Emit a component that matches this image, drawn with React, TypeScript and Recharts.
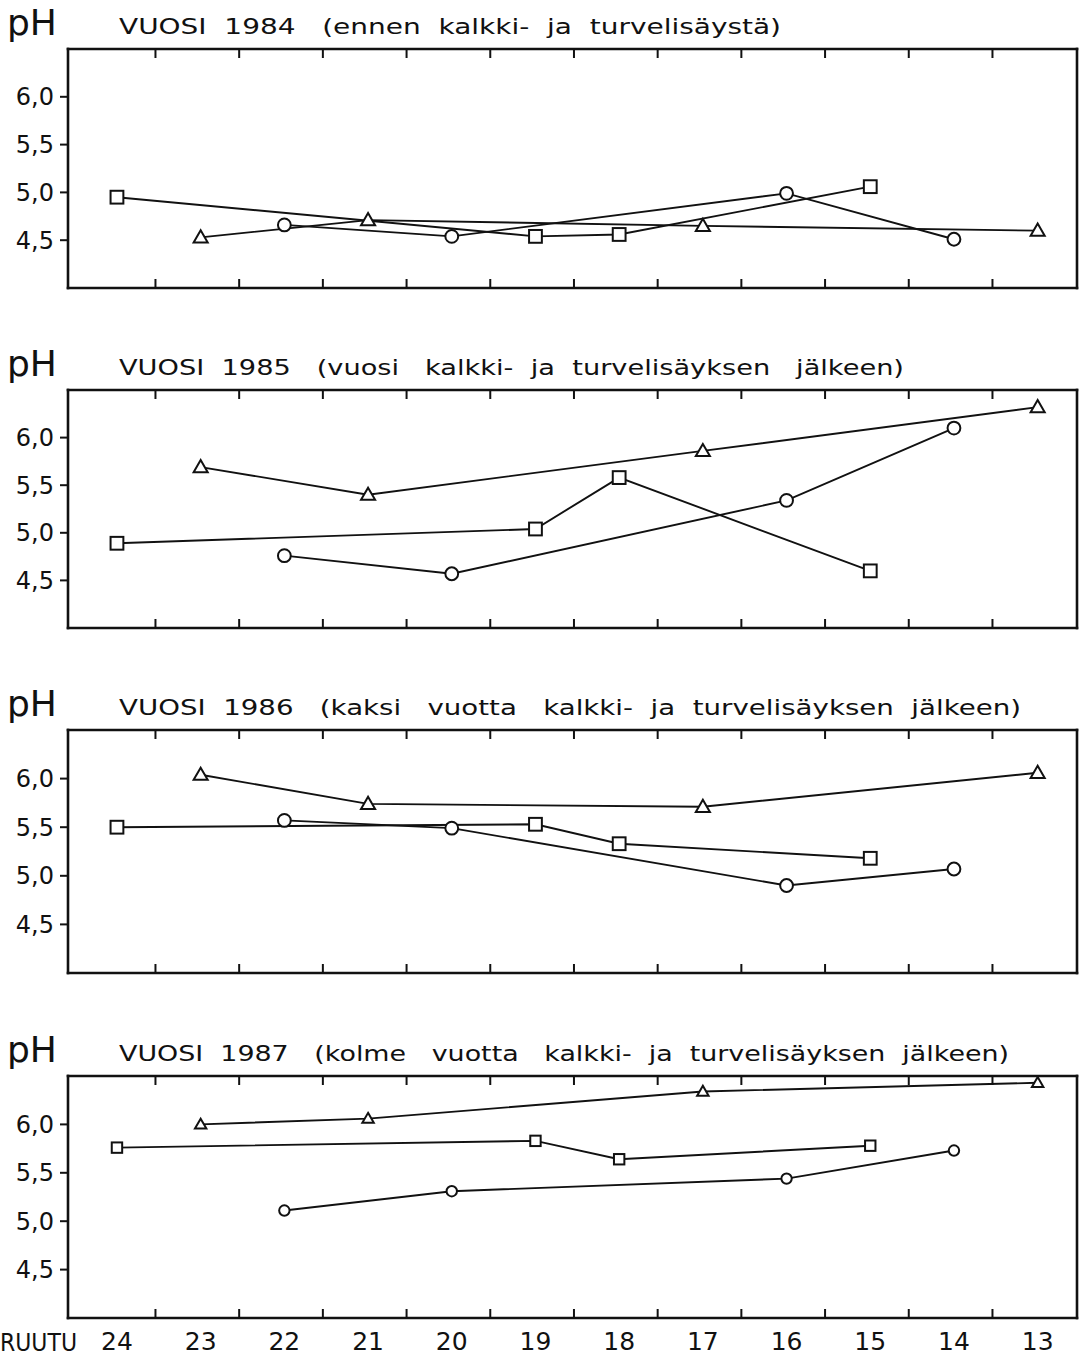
import { Line, LineChart, XAxis, YAxis } from "recharts";

// sample plots (ruutu) in the order they are drawn, left to right
const ruutu = [24, 23, 22, 21, 20, 19, 18, 17, 16, 15, 14, 13];
const phTicks = [4.5, 5.0, 5.5, 6.0];
// frame tick marks sit between neighbouring plots
const frameTicks = [0.46, 1.46, 2.46, 3.46, 4.46, 5.46, 6.46, 7.46, 8.46, 9.46, 10.46];

const titles = [
  "VUOSI  1984   (ennen  kalkki-  ja  turvelisäystä)",
  "VUOSI  1985   (vuosi   kalkki-  ja  turvelisäyksen   jälkeen)",
  "VUOSI  1986   (kaksi   vuotta   kalkki-  ja  turvelisäyksen  jälkeen)",
  "VUOSI  1987   (kolme   vuotta   kalkki-  ja  turvelisäyksen  jälkeen)",
];

// pH per plot, null where the series has no sample
const square1984 = [4.95, null, null, null, null, 4.54, 4.56, null, null, 5.06, null, null];
const circle1984 = [null, null, 4.66, null, 4.54, null, null, null, 4.99, null, 4.51, null];
const triangle1984 = [null, 4.53, null, 4.71, null, null, null, 4.65, null, null, null, 4.60];

const square1985 = [4.89, null, null, null, null, 5.04, 5.58, null, null, 4.60, null, null];
const circle1985 = [null, null, 4.76, null, 4.57, null, null, null, 5.34, null, 6.10, null];
const triangle1985 = [null, 5.69, null, 5.40, null, null, null, 5.86, null, null, null, 6.32];

const square1986 = [5.50, null, null, null, null, 5.53, 5.33, null, null, 5.18, null, null];
const circle1986 = [null, null, 5.57, null, 5.49, null, null, null, 4.90, null, 5.07, null];
const triangle1986 = [null, 6.04, null, 5.74, null, null, null, 5.71, null, null, null, 6.06];

const square1987 = [5.76, null, null, null, null, 5.83, 5.64, null, null, 5.78, null, null];
const circle1987 = [null, null, 5.11, null, 5.31, null, null, null, 5.44, null, 5.73, null];
const triangle1987 = [null, 6.00, null, 6.06, null, null, null, 6.34, null, null, null, 6.43];

const years = [
  { square: square1984, circle: circle1984, triangle: triangle1984 },
  { square: square1985, circle: circle1985, triangle: triangle1985 },
  { square: square1986, circle: circle1986, triangle: triangle1986 },
  { square: square1987, circle: circle1987, triangle: triangle1987 },
];

const INK = "#111";
const FONT = "'DejaVu Sans', sans-serif";

// frame placement of each panel on the page
const frames = [
  { top: 50, height: 237, titleWidth: 662 },
  { top: 391, height: 236, titleWidth: 785 },
  { top: 731, height: 241, titleWidth: 902 },
  { top: 1077, height: 240, titleWidth: 890 },
];

const X_DOMAIN: [number, number] = [-0.585, 11.47];

type Shape = "square" | "circle" | "triangle";

function makeDot(shape: Shape, r: number) {
  return (props: any) => {
    const { cx, cy, index, value } = props;
    const key = `${shape}-${index}`;
    if (value == null || cx == null || cy == null || Number.isNaN(cy)) return <g key={key} />;
    if (shape === "circle") {
      return <circle key={key} cx={cx} cy={cy} r={r} fill="#fff" stroke={INK} strokeWidth={2} />;
    }
    if (shape === "square") {
      return (
        <rect key={key} x={cx - r} y={cy - r} width={2 * r} height={2 * r}
          fill="#fff" stroke={INK} strokeWidth={2} />
      );
    }
    const w = r * 1.1;
    const pts = `${cx},${cy - r * 1.1} ${cx + w},${cy + r * 0.8} ${cx - w},${cy + r * 0.8}`;
    return <polygon key={key} points={pts} fill="#fff" stroke={INK} strokeWidth={2} />;
  };
}

const frameLine = { stroke: INK, strokeWidth: 2.6, strokeLinecap: "square" as const };
const tickStroke = { stroke: INK, strokeWidth: 2 };

function Panel({ idx }: { idx: number }) {
  const f = frames[idx];
  const y = years[idx];
  const last = idx === frames.length - 1;
  const rows = ruutu.map((r, i) => ({
    x: i,
    ruutu: r,
    square: y.square[i],
    circle: y.circle[i],
    triangle: y.triangle[i],
  }));
  const labelH = last ? 50 : 0;
  const r = last ? 5.2 : 6.4;
  // 5px margin + 1px top axis above the frame, same below
  const height = 6 + f.height + 1 + (last ? labelH : 5);

  return (
    <div style={{ position: "absolute", left: 0, top: f.top - 6 }}>
      <LineChart width={1080} height={height} data={rows}
        margin={{ top: 5, right: 2, bottom: last ? 0 : 5, left: 0 }}>
        <XAxis xAxisId="top" orientation="top" type="number" dataKey="x" domain={X_DOMAIN}
          allowDataOverflow ticks={frameTicks} mirror tickSize={9} height={1}
          tickFormatter={() => ""} axisLine={frameLine} tickLine={tickStroke} />
        <XAxis xAxisId="frame" orientation="bottom" type="number" dataKey="x" domain={X_DOMAIN}
          allowDataOverflow ticks={frameTicks} mirror tickSize={9} height={1}
          tickFormatter={() => ""} axisLine={frameLine} tickLine={tickStroke} />
        {last && (
          <XAxis xAxisId="labels" orientation="bottom" type="number" dataKey="x" domain={X_DOMAIN}
            allowDataOverflow ticks={ruutu.map((_, i) => i)} height={labelH}
            tickFormatter={(v: number) => String(ruutu[v])} axisLine={false} tickLine={false}
            tickSize={0} tickMargin={14}
            tick={{ fill: INK, fontSize: 25, fontFamily: FONT }} />
        )}
        <YAxis yAxisId="ph" type="number" domain={[4, 6.5]} allowDataOverflow ticks={phTicks}
          width={68} tickSize={8} tickMargin={6} axisLine={frameLine} tickLine={tickStroke}
          tickFormatter={(v: number) => v.toFixed(1).replace(".", ",")}
          tick={{ fill: INK, fontSize: 24, fontFamily: FONT }} />
        <YAxis yAxisId="edge" orientation="right" type="number" domain={[4, 6.5]} width={1}
          tick={false} tickLine={false} axisLine={frameLine} />
        <Line xAxisId="frame" yAxisId="ph" dataKey="triangle" type="linear" connectNulls
          stroke={INK} strokeWidth={1.9} dot={makeDot("triangle", r)} activeDot={false}
          isAnimationActive={false} />
        <Line xAxisId="frame" yAxisId="ph" dataKey="circle" type="linear" connectNulls
          stroke={INK} strokeWidth={1.9} dot={makeDot("circle", r)} activeDot={false}
          isAnimationActive={false} />
        <Line xAxisId="frame" yAxisId="ph" dataKey="square" type="linear" connectNulls
          stroke={INK} strokeWidth={1.9} dot={makeDot("square", r)} activeDot={false}
          isAnimationActive={false} />
      </LineChart>
    </div>
  );
}

export default function App() {
  return (
    <div style={{ position: "absolute", left: 0, top: 0, width: 1080, height: 1359, background: "#fff" }}>
      <svg width={1080} height={1359} style={{ position: "absolute", left: 0, top: 0 }}>
        {frames.map((f, i) => (
          <g key={i} fill={INK} fontFamily={FONT}>
            <text x={7} y={f.top - 15} fontSize={36}>pH</text>
            <text x={119} y={f.top - 16} fontSize={22} textLength={f.titleWidth}
              lengthAdjust="spacingAndGlyphs" style={{ whiteSpace: "pre" }}>
              {titles[i]}
            </text>
          </g>
        ))}
        <text x={0} y={1351} fontSize={25} fill={INK} fontFamily={FONT} textLength={77}
          lengthAdjust="spacingAndGlyphs">RUUTU</text>
      </svg>
      {frames.map((_, i) => (
        <Panel key={i} idx={i} />
      ))}
    </div>
  );
}
